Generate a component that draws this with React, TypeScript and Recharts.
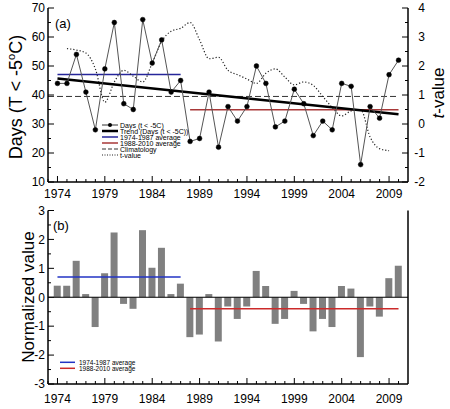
import React from 'react';
import { ComposedChart, Line, Bar, XAxis, YAxis, ReferenceLine } from 'recharts';

const years = [1974,1975,1976,1977,1978,1979,1980,1981,1982,1983,1984,1985,1986,1987,1988,1989,1990,1991,1992,1993,1994,1995,1996,1997,1998,1999,2000,2001,2002,2003,2004,2005,2006,2007,2008,2009,2010];
const daysBelow = [44,44,54,41,28,49,65,37,35,66,51,59,41,45,24,25,41,22,36,31,36,50,44,29,31,42,37,26,31,28,44,43,16,36,32,47,52];
const normalized = [0.40,0.40,1.26,0.11,-1.03,0.83,2.24,-0.23,-0.40,2.32,1.02,1.71,0.11,0.47,-1.38,-1.29,0.11,-1.53,-0.32,-0.75,-0.32,0.91,0.39,-0.92,-0.75,0.22,-0.23,-1.18,-0.75,-1.03,0.39,0.30,-2.07,-0.32,-0.67,0.66,1.09];
const tYears = [1975,1976,1977,1978,1979,1980,1981,1982,1983,1984,1985,1986,1987,1988,1989,1990,1991,1992,1993,1994,1995,1996,1997,1998,1999,2000,2001,2002,2003,2004,2005,2006,2007,2008,2009];
const tValues = [2.6,2.55,2.45,1.9,0.75,1.45,1.85,1.65,1.45,2.1,2.85,3.2,3.3,3.5,2.9,2.25,2.3,1.85,1.7,1.55,1.4,1.75,1.9,1.62,1.35,1.45,1.33,0.95,0.57,0.28,0.45,0.5,-0.45,-0.85,-0.92];
const trendYears = [1974, 2010];
const trendValues = [45.7, 33.4];
const early = { from: 1974, to: 1987, days: 47.1, norm: 0.7 };
const late = { from: 1988, to: 2010, days: 34.9, norm: -0.4 };
const climatology = { from: 1973, to: 2010, days: 39.5 };

const xMajor = [1974, 1979, 1984, 1989, 1994, 1999, 2004, 2009];
const allYearTicks: number[] = [];
for (let y = 1973; y <= 2010; y++) allYearTicks.push(y);
const daysTicks = [10,15,20,25,30,35,40,45,50,55,60,65,70];
const tTicks = [-2,-1.5,-1,-0.5,0,0.5,1,1.5,2,2.5,3,3.5,4];
const normTicks = [-3,-2.5,-2,-1.5,-1,-0.5,0,0.5,1,1.5,2,2.5,3];

type Row = { year: number; days?: number | null; norm?: number | null; t?: number | null; trend?: number | null; avgE?: number | null; avgL?: number | null; clim?: number | null; nE?: number | null; nL?: number | null };
const rows: Row[] = [];
for (let y = 1973; y <= 2010; y++) {
  const i = years.indexOf(y);
  const ti = tYears.indexOf(y);
  const tr = trendYears.indexOf(y);
  rows.push({
    year: y,
    days: i >= 0 ? daysBelow[i] : null,
    norm: i >= 0 ? normalized[i] : null,
    t: ti >= 0 ? tValues[ti] : null,
    trend: tr >= 0 ? trendValues[tr] : null,
    avgE: y >= early.from && y <= early.to ? early.days : null,
    avgL: y >= late.from && y <= late.to ? late.days : null,
    nE: y >= early.from && y <= early.to ? early.norm : null,
    nL: y >= late.from && y <= late.to ? late.norm : null,
    clim: y === climatology.from || y === climatology.to ? climatology.days : null,
  });
}

const FONT = '"Liberation Sans", Arial, sans-serif';

const XTick = (props: any) => {
  const { x, y, payload, dir, labelDy } = props;
  const v = payload.value;
  const major = xMajor.includes(v);
  const len = major ? 6 : 3;
  return (
    <g>
      <line x1={x} y1={y} x2={x} y2={y - dir * len} stroke="#000" strokeWidth={1} />
      {labelDy !== undefined && major ? (
        <text x={x} y={y + labelDy} textAnchor="middle" fontSize={12} fontFamily={FONT} fill="#000">{v}</text>
      ) : null}
    </g>
  );
};

const YTick = (props: any) => {
  const { x, y, payload, dir, majorStep, labelDx, anchor } = props;
  const v = payload.value;
  const major = Math.abs(v / majorStep - Math.round(v / majorStep)) < 1e-6;
  const len = major ? 6 : 3;
  return (
    <g>
      <line x1={x} y1={y} x2={x + dir * len} y2={y} stroke="#000" strokeWidth={1} />
      {labelDx !== undefined && major ? (
        <text x={x + labelDx} y={y + 4.3} textAnchor={anchor} fontSize={12} fontFamily={FONT} fill="#000">{v}</text>
      ) : null}
    </g>
  );
};

const axisLine = { stroke: '#000', strokeWidth: 1.5 };

export default function App() {
  return (
    <div style={{ position: 'absolute', left: 0, top: 0, width: 450, height: 409, background: '#fff', fontFamily: FONT }}>
      <div style={{ position: 'absolute', left: 0, top: 0 }}>
        <ComposedChart width={450} height={200} data={rows} margin={{ top: 8, right: 0, bottom: 0, left: 0 }}>
          <XAxis xAxisId="b" dataKey="year" type="number" domain={[1973, 2011]} ticks={allYearTicks} interval={0} height={18}
            tickSize={0} tickMargin={0} tickLine={false} axisLine={axisLine} tick={<XTick dir={1} labelDy={16.3} />} />
          <XAxis xAxisId="top" orientation="top" dataKey="year" type="number" domain={[1973, 2011]} ticks={allYearTicks} interval={0} height={0}
            tickSize={0} tickMargin={0} tickLine={false} axisLine={axisLine} tick={<XTick dir={-1} />} />
          <YAxis yAxisId="d" domain={[10, 70]} ticks={daysTicks} interval={0} width={48} tickSize={0} tickMargin={0} tickLine={false}
            axisLine={axisLine} tick={<YTick dir={1} majorStep={10} labelDx={-3} anchor="end" />} />
          <YAxis yAxisId="t" orientation="right" domain={[-2, 4]} ticks={tTicks} interval={0} width={42} tickSize={0} tickMargin={0} tickLine={false}
            axisLine={axisLine} tick={<YTick dir={-1} majorStep={1} labelDx={17} anchor="end" />} />
          <Line xAxisId="b" yAxisId="d" dataKey="clim" stroke="#333" strokeWidth={1} strokeDasharray="6 3" dot={false} connectNulls isAnimationActive={false} />
          <Line xAxisId="b" yAxisId="d" dataKey="avgE" stroke="#26269a" strokeWidth={1.5} dot={false} isAnimationActive={false} />
          <Line xAxisId="b" yAxisId="d" dataKey="avgL" stroke="#a83838" strokeWidth={1.5} dot={false} isAnimationActive={false} />
          <Line xAxisId="b" yAxisId="t" dataKey="t" type="monotone" stroke="#222" strokeWidth={1.2} strokeDasharray="1.2 2" dot={false} isAnimationActive={false} />
          <Line xAxisId="b" yAxisId="d" dataKey="trend" stroke="#000" strokeWidth={2.5} dot={false} connectNulls isAnimationActive={false} />
          <Line xAxisId="b" yAxisId="d" dataKey="days" stroke="#555" strokeWidth={1} dot={{ r: 2.4, fill: '#000', stroke: '#000', strokeWidth: 0.5 }} isAnimationActive={false} />
        </ComposedChart>
      </div>
      <div style={{ position: 'absolute', left: 0, top: 200 }}>
        <ComposedChart width={450} height={209} data={rows} margin={{ top: 10.5, right: 0, bottom: 0, left: 0 }}>
          <XAxis xAxisId="b" dataKey="year" type="number" domain={[1973, 2011]} ticks={allYearTicks} interval={0} height={25}
            tickSize={0} tickMargin={0} tickLine={false} axisLine={axisLine} tick={<XTick dir={1} labelDy={19.3} />} />
          <XAxis xAxisId="top" orientation="top" dataKey="year" type="number" domain={[1973, 2011]} ticks={allYearTicks} interval={0} height={0}
            tickSize={0} tickMargin={0} tickLine={false} axisLine={axisLine} tick={<XTick dir={-1} />} />
          <YAxis yAxisId="n" domain={[-3, 3]} ticks={normTicks} interval={0} width={48} tickSize={0} tickMargin={0} tickLine={false}
            axisLine={axisLine} tick={<YTick dir={1} majorStep={1} labelDx={-3} anchor="end" />} />
          <YAxis yAxisId="n2" orientation="right" domain={[-3, 3]} ticks={normTicks} interval={0} width={42} tickSize={0} tickMargin={0} tickLine={false}
            axisLine={axisLine} tick={<YTick dir={-1} majorStep={1} />} />
          <Bar xAxisId="b" yAxisId="n" dataKey="norm" fill="#808080" barSize={7} isAnimationActive={false} />
          <ReferenceLine xAxisId="b" yAxisId="n" y={0} stroke="#000" strokeWidth={1.2} />
          <Line xAxisId="b" yAxisId="n" dataKey="nE" stroke="#2233c4" strokeWidth={1.5} dot={false} isAnimationActive={false} />
          <Line xAxisId="b" yAxisId="n" dataKey="nL" stroke="#cc2a2a" strokeWidth={1.5} dot={false} isAnimationActive={false} />
        </ComposedChart>
      </div>
      <svg width={450} height={409} style={{ position: 'absolute', left: 0, top: 0, pointerEvents: 'none' }} fontFamily={FONT}>
        <text transform="translate(22,97) rotate(-90)" textAnchor="middle" fontSize={18} fill="#000">
          Days (T &lt; -5<tspan fontSize={11} dy={-7}>o</tspan><tspan dy={7}>C)</tspan>
        </text>
        <text transform="translate(34,297) rotate(-90)" textAnchor="middle" fontSize={17} fill="#000">Normalized value</text>
        <text transform="translate(444,93) rotate(-90)" textAnchor="middle" fontSize={17} fill="#000">
          <tspan fontStyle="italic">t</tspan>-value
        </text>
        <text x={55} y={27.5} fontSize={13} fill="#000">(a)</text>
        <text x={53} y={229.5} fontSize={13} fill="#000">(b)</text>
        <g fontSize={7} fill="#000">
          <line x1={102} x2={118} y1={125} y2={125} stroke="#333" strokeWidth={1} />
          <circle cx={110} cy={125} r={2} fill="#000" />
          <text x={120} y={127.5}>Days (t &lt; -5C)</text>
          <line x1={102} x2={118} y1={131} y2={131} stroke="#000" strokeWidth={2.5} />
          <text x={120} y={133.5}>Trend (Days (t &lt; -5C))</text>
          <line x1={102} x2={118} y1={137} y2={137} stroke="#26269a" strokeWidth={1.5} />
          <text x={120} y={139.5}>1974-1987 average</text>
          <line x1={102} x2={118} y1={143} y2={143} stroke="#a83838" strokeWidth={1.5} />
          <text x={120} y={145.5}>1988-2010 average</text>
          <line x1={102} x2={118} y1={149} y2={149} stroke="#333" strokeWidth={1} strokeDasharray="4 2" />
          <text x={120} y={151.5}>Climatology</text>
          <line x1={102} x2={118} y1={155} y2={155} stroke="#222" strokeWidth={1} strokeDasharray="1 1.5" />
          <text x={120} y={157.5}>t-value</text>
        </g>
        <g fontSize={6.5} fill="#000">
          <line x1={60} x2={75} y1={362.3} y2={362.3} stroke="#2233c4" strokeWidth={1.5} />
          <text x={79} y={364.6}>1974-1987 average</text>
          <line x1={60} x2={75} y1={368.3} y2={368.3} stroke="#cc2a2a" strokeWidth={1.5} />
          <text x={79} y={370.6}>1988-2010 average</text>
        </g>
      </svg>
    </div>
  );
}
